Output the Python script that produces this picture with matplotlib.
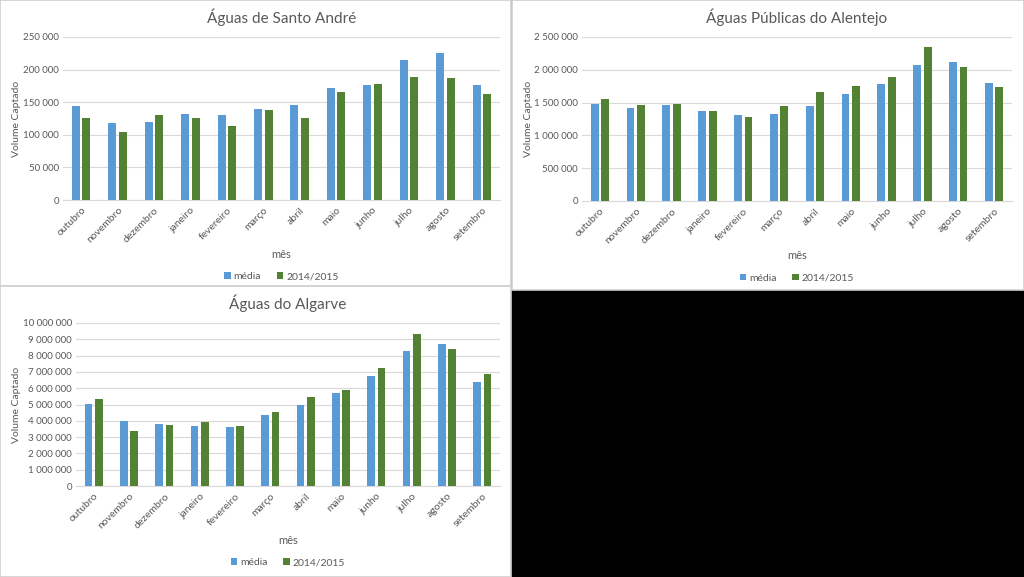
import numpy as np
import matplotlib
matplotlib.use("Agg")
import matplotlib.pyplot as plt
from matplotlib.patches import Rectangle
from matplotlib.ticker import FuncFormatter

plt.rcParams['font.family'] = ['Lato', 'DejaVu Sans']

meses = ['outubro', 'novembro', 'dezembro', 'janeiro', 'fevereiro', 'março',
         'abril', 'maio', 'junho', 'julho', 'agosto', 'setembro']

# Águas de Santo André
sa_media = [144000, 118500, 120000, 131500, 130000, 139000,
            145000, 171500, 177000, 215000, 225000, 177000]
sa_2015 = [126000, 104500, 130000, 126000, 114000, 138000,
           126500, 165000, 178500, 188000, 187000, 162000]

# Águas Públicas do Alentejo
ap_media = [1485000, 1423000, 1459000, 1372000, 1311000, 1327000,
            1449000, 1638000, 1791000, 2071000, 2112000, 1796000]
ap_2015 = [1561000, 1469000, 1485000, 1378000, 1276000, 1444000,
           1668000, 1760000, 1883000, 2342000, 2036000, 1740000]

# Águas do Algarve
al_media = [5060000, 3980000, 3800000, 3670000, 3610000, 4330000,
            4960000, 5690000, 6760000, 8270000, 8710000, 6350000]
al_2015 = [5330000, 3390000, 3760000, 3920000, 3670000, 4550000,
           5470000, 5920000, 7220000, 9310000, 8410000, 6860000]

AZUL = '#5B9BD5'
VERDE = '#548235'
TXT = '#595959'

W, H = 1024, 577
fig = plt.figure(figsize=(W / 100, H / 100), dpi=100, facecolor='black')


def px(x0, y0, x1, y1):
    # caixa em pixels (origem em cima) -> fracção da figura
    return [x0 / W, 1 - y1 / H, (x1 - x0) / W, (y1 - y0) / H]


def painel(box):
    r = Rectangle((box[0], box[1]), box[2], box[3], transform=fig.transFigure,
                  facecolor='white', edgecolor='#D0D0D0', lw=1.2, zorder=-5)
    fig.patches.append(r)


def fmt(v, pos):
    return f"{int(v):,}".replace(',', ' ')


def grafico(pbox, abox, titulo, media, ano, ymax, passo, ylab_x):
    painel(px(*pbox))
    ax = fig.add_axes(px(*abox))
    x = np.arange(len(meses))
    w = 0.22
    ax.bar(x - 0.145, media, w, color=AZUL, label='média', zorder=3)
    ax.bar(x + 0.145, ano, w, color=VERDE, label='2014/2015', zorder=3)
    ax.set_xlim(-0.5, len(meses) - 0.5)
    ax.set_ylim(0, ymax)
    ax.set_yticks(np.arange(0, ymax + 1, passo))
    ax.yaxis.set_major_formatter(FuncFormatter(fmt))
    ax.grid(axis='y', color='#D9D9D9', lw=0.8, zorder=0)
    for s in ['top', 'right', 'left']:
        ax.spines[s].set_visible(False)
    ax.spines['bottom'].set_color('#D9D9D9')
    ax.tick_params(length=0, colors=TXT, labelsize=7, pad=3)
    ax.tick_params(axis='x', labelsize=7.5, pad=4)
    ax.set_xticks(x)
    ax.set_xticklabels(meses, rotation=45, ha='right', rotation_mode='anchor')
    ax.set_facecolor('none')
    ax.set_title(titulo, color=TXT, fontsize=11, pad=10)
    ax.set_ylabel('Volume Captado', color=TXT, fontsize=7.5)
    ax.yaxis.set_label_coords(ylab_x, 0.5)
    ax.set_xlabel('mês', color=TXT, fontsize=8, labelpad=3)
    ax.legend(loc='center', bbox_to_anchor=(0.5, -0.47), ncol=2,
              frameon=False, fontsize=7.5, handlelength=0.6, handleheight=0.6,
              columnspacing=1.5, handletextpad=0.3, labelcolor=TXT)
    return ax


grafico((0, 0, 511, 286), (63, 37, 500, 200), 'Águas de Santo André',
        sa_media, sa_2015, 250000, 50000, -0.095)
grafico((512, 0, 1024, 290), (582, 37, 1012, 201), 'Águas Públicas do Alentejo',
        ap_media, ap_2015, 2500000, 500000, -0.115)
grafico((0, 286, 511, 577), (76, 323, 500, 486), 'Águas do Algarve',
        al_media, al_2015, 10000000, 1000000, -0.13)

fig.savefig('out.png', dpi=100, facecolor=fig.get_facecolor())
